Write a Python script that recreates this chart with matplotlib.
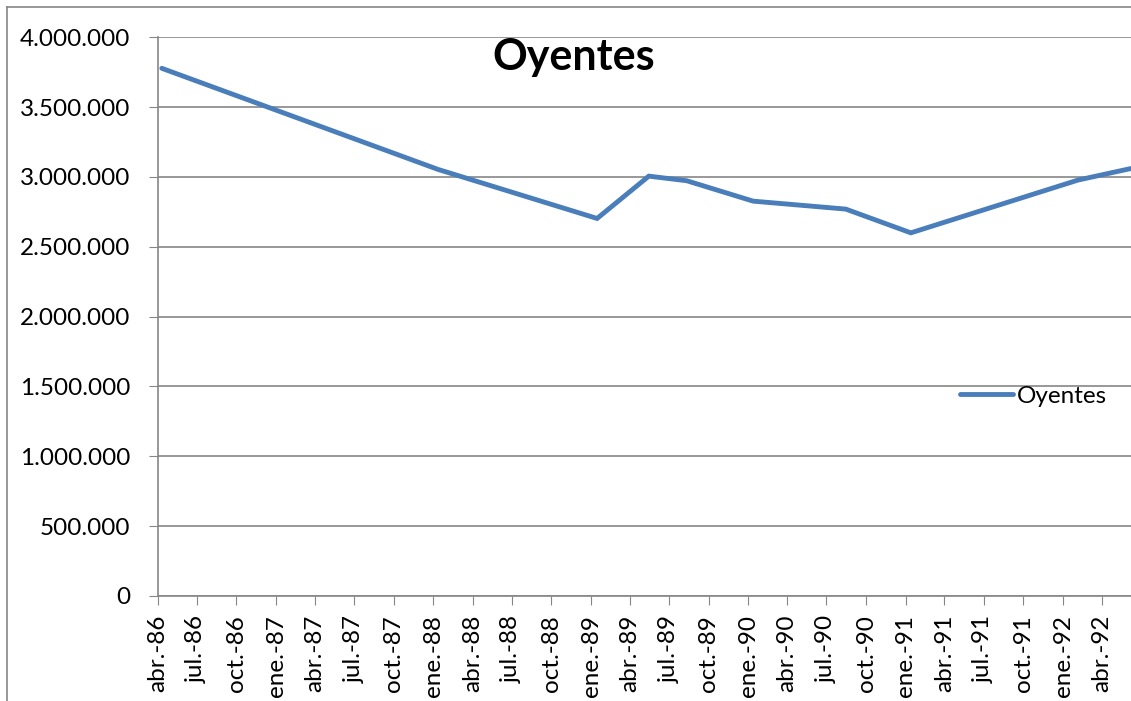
import datetime as dt
import matplotlib
matplotlib.use("Agg")
import matplotlib.pyplot as plt
import matplotlib.dates as mdates
from matplotlib.ticker import FuncFormatter
from matplotlib.lines import Line2D

plt.rcParams['font.family'] = ['Lato', 'DejaVu Sans']

# datos
fechas = ["1986-04-11", "1988-01-12", "1989-01-15", "1989-05-15", "1989-08-11",
          "1990-01-12", "1990-08-15", "1991-01-13", "1992-02-05", "1992-07-01"]
oyentes = [3778000, 3054000, 2703000, 3006000, 2973000,
           2827000, 2770000, 2600000, 2978000, 3077000]
meses = ["ene.", "feb.", "mar.", "abr.", "may.", "jun.",
         "jul.", "ago.", "sep.", "oct.", "nov.", "dic."]
titulo = "Oyentes"

x = [dt.datetime.strptime(f, "%Y-%m-%d") for f in fechas]

fig = plt.figure(figsize=(11.31, 7.01), dpi=100)
ax = fig.add_axes([157.5 / 1131, 105 / 701, (1136.7 - 157.5) / 1131, 558.7 / 701])

gris = '#868686'
ax.plot(x, oyentes, color='#4A7EBB', lw=3.5, solid_capstyle='round',
        solid_joinstyle='miter', label='Oyentes', zorder=3)

ax.set_xlim(dt.datetime(1986, 4, 1), dt.datetime(1992, 6, 20))
ax.set_ylim(0, 4000000)
ax.set_yticks(range(0, 4000001, 500000))
ax.yaxis.set_major_formatter(FuncFormatter(lambda v, p: f"{int(v):,}".replace(',', '.')))
ax.xaxis.set_major_locator(mdates.MonthLocator(bymonth=[1, 4, 7, 10]))
ax.xaxis.set_major_formatter(FuncFormatter(
    lambda v, p: f"{meses[mdates.num2date(v).month - 1]}-{mdates.num2date(v).strftime('%y')}"))

ax.grid(axis='y', color=gris, lw=1.2)
ax.set_axisbelow(True)
for s in ['top', 'right']:
    ax.spines[s].set_visible(False)
for s in ['left', 'bottom']:
    ax.spines[s].set_color(gris)
    ax.spines[s].set_linewidth(1.2)
ax.tick_params(axis='y', length=6.5, color=gris, labelsize=17.5, pad=13)
ax.tick_params(axis='x', length=6.5, color=gris, labelsize=17.5, pad=7, labelrotation=90)

fig.text(574 / 1131, 1 - 70 / 701, titulo, fontsize=31, fontweight='bold',
         ha='center', va='baseline')

leg = ax.legend(loc='center left', bbox_to_anchor=(960 / 1131, 1 - 396 / 701),
                bbox_transform=fig.transFigure, frameon=False, fontsize=17.5,
                handlelength=2.2, handletextpad=0.15, borderpad=0, borderaxespad=0)

# borde exterior del gráfico
fig.add_artist(Line2D([7 / 1131, 7 / 1131], [0, 1 - 7 / 701], color=gris, lw=1.2))
fig.add_artist(Line2D([7 / 1131, 1], [1 - 7 / 701, 1 - 7 / 701], color=gris, lw=1.2))

fig.savefig("out.png", dpi=100)
